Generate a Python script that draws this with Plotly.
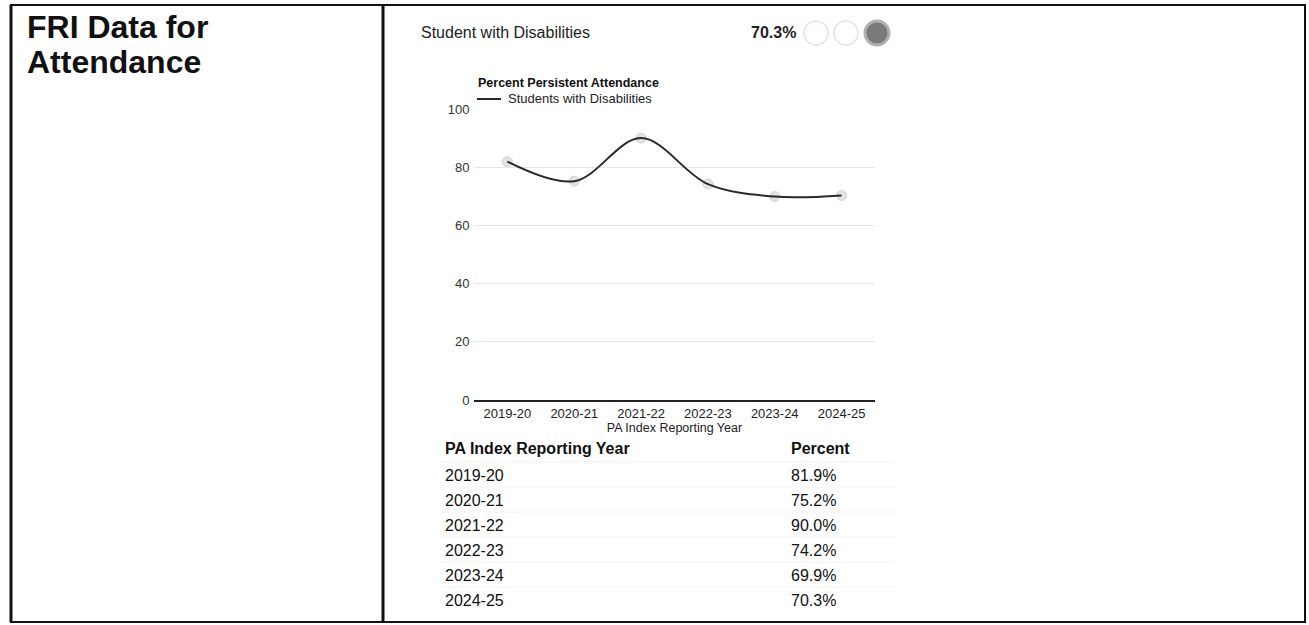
import plotly.graph_objects as go

W, H = 1309, 625

years = ["2019-20", "2020-21", "2021-22", "2022-23", "2023-24", "2024-25"]
percent = [81.9, 75.2, 90.0, 74.2, 69.9, 70.3]
y_ticks = [0, 20, 40, 60, 80, 100]

page_title = ["FRI Data for", "Attendance"]
group_label = "Student with Disabilities"
chart_title = "Percent Persistent Attendance"
series_name = "Students with Disabilities"
x_title = "PA Index Reporting Year"
table_headers = ["PA Index Reporting Year", "Percent"]

FONT = "Arial, Liberation Sans, Helvetica, sans-serif"


def px(x):
    return x / W


def py(y):
    return 1 - y / H


fig = go.Figure()

fig.add_trace(go.Scatter(
    x=years, y=percent, mode="markers",
    marker=dict(size=10, color="rgba(215,215,215,0.7)",
                line=dict(color="rgba(190,190,190,0.6)", width=1)),
    showlegend=False, hoverinfo="skip",
))
fig.add_trace(go.Scatter(
    x=years, y=percent, mode="lines", name=series_name,
    line=dict(color="#2a2a2a", width=2, shape="spline", smoothing=1.0),
    showlegend=False,
))

fig.update_layout(
    width=W, height=H,
    margin=dict(l=0, r=0, t=0, b=0, pad=0, autoexpand=False),
    showlegend=False,
    paper_bgcolor="white", plot_bgcolor="white",
    font=dict(family=FONT, color="#222"),
    xaxis=dict(
        domain=[px(474), px(875)],
        type="category",
        range=[-0.5, 5.5],
        showgrid=False,
        showline=True, linecolor="#222", linewidth=2,
        tickfont=dict(size=13, color="#222"),
        ticks="",
        automargin=False,
        title=dict(text=x_title, font=dict(size=12.5, color="#222"), standoff=0),
    ),
    yaxis=dict(
        domain=[py(400), py(109)],
        range=[0, 100],
        tickvals=y_ticks,
        showgrid=True, gridcolor="#e6e6e6", gridwidth=1,
        zeroline=False,
        automargin=False,
        tickfont=dict(size=13, color="#333333"),
        ticks="outside", ticklen=1, tickcolor="white",
    ),
)

anns = []
shapes = []

# outer frame and divider
line_col = "#111"
shapes.append(dict(type="line", xref="paper", yref="paper",
                   x0=px(10), x1=px(1306), y0=py(5), y1=py(5),
                   line=dict(color=line_col, width=2)))
shapes.append(dict(type="line", xref="paper", yref="paper",
                   x0=px(10), x1=px(1306), y0=py(622), y1=py(622),
                   line=dict(color=line_col, width=2)))
shapes.append(dict(type="line", xref="paper", yref="paper",
                   x0=px(11), x1=px(11), y0=py(5), y1=py(622),
                   line=dict(color=line_col, width=3)))
shapes.append(dict(type="line", xref="paper", yref="paper",
                   x0=px(1305), x1=px(1305), y0=py(5), y1=py(622),
                   line=dict(color=line_col, width=2)))
shapes.append(dict(type="line", xref="paper", yref="paper",
                   x0=px(383), x1=px(383), y0=py(5), y1=py(622),
                   line=dict(color=line_col, width=3)))

# left title
for i, t in enumerate(page_title):
    anns.append(dict(text=f"<b>{t}</b>", xref="paper", yref="paper",
                     x=px(25), y=py(27 + 35 * i), xanchor="left", yanchor="middle",
                     showarrow=False, font=dict(size=32, color="#111", family=FONT)))

# header row of right panel
anns.append(dict(text=group_label, xref="paper", yref="paper",
                 x=px(419), y=py(33), xanchor="left", yanchor="middle",
                 showarrow=False, font=dict(size=16, color="#222", family=FONT)))
anns.append(dict(text=f"<b>{percent[-1]:.1f}%</b>", xref="paper", yref="paper",
                 x=px(798), y=py(33), xanchor="right", yanchor="middle",
                 showarrow=False, font=dict(size=16, color="#222", family=FONT)))

# indicator circles
r = 12
for cx, fill, lc, lw in [(816, "white", "#e2e2e2", 1.5),
                         (846, "white", "#e2e2e2", 1.5),
                         (877, "#7a7a7a", "#b0b0b0", 3)]:
    shapes.append(dict(type="circle", xref="paper", yref="paper",
                       x0=px(cx - r), x1=px(cx + r), y0=py(33 + r), y1=py(33 - r),
                       fillcolor=fill, line=dict(color=lc, width=lw)))

# chart title & legend
anns.append(dict(text=f"<b>{chart_title}</b>", xref="paper", yref="paper",
                 x=px(476), y=py(83), xanchor="left", yanchor="middle",
                 showarrow=False, font=dict(size=12.5, color="#111", family=FONT)))
shapes.append(dict(type="line", xref="paper", yref="paper",
                   x0=px(477), x1=px(501), y0=py(99), y1=py(99),
                   line=dict(color="#2a2a2a", width=2)))
anns.append(dict(text=series_name, xref="paper", yref="paper",
                 x=px(506), y=py(98), xanchor="left", yanchor="middle",
                 showarrow=False, font=dict(size=13, color="#222", family=FONT)))

# data table
anns.append(dict(text=f"<b>{table_headers[0]}</b>", xref="paper", yref="paper",
                 x=px(443), y=py(448), xanchor="left", yanchor="middle",
                 showarrow=False, font=dict(size=16, color="#111", family=FONT)))
anns.append(dict(text=f"<b>{table_headers[1]}</b>", xref="paper", yref="paper",
                 x=px(789), y=py(448), xanchor="left", yanchor="middle",
                 showarrow=False, font=dict(size=16, color="#111", family=FONT)))
row_y0, row_h = 475, 25.0
for i, (yr, v) in enumerate(zip(years, percent)):
    yy = row_y0 + row_h * i
    anns.append(dict(text=yr, xref="paper", yref="paper",
                     x=px(443), y=py(yy), xanchor="left", yanchor="middle",
                     showarrow=False, font=dict(size=16, color="#111", family=FONT)))
    anns.append(dict(text=f"{v:.1f}%", xref="paper", yref="paper",
                     x=px(789), y=py(yy), xanchor="left", yanchor="middle",
                     showarrow=False, font=dict(size=16, color="#111", family=FONT)))
    shapes.append(dict(type="line", xref="paper", yref="paper",
                       x0=px(440), x1=px(895), y0=py(yy - 13), y1=py(yy - 13),
                       line=dict(color="#f3f3f3", width=1)))

fig.update_layout(annotations=anns, shapes=shapes)

fig.write_html(
    "out.html",
    config={"displayModeBar": False},
    post_script="document.body.style.margin='0';document.body.style.overflow='hidden';",
)
